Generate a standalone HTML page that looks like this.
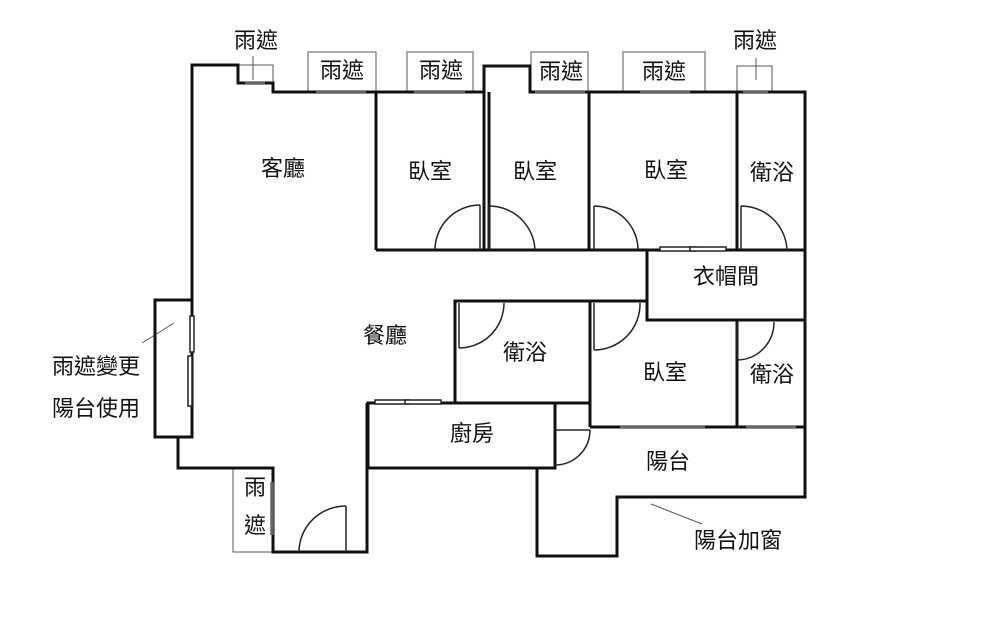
<!DOCTYPE html>
<html><head><meta charset="utf-8"><style>
html,body{margin:0;padding:0;background:#fff;}
svg{display:block;}
text{font-family:"Liberation Sans","Noto Sans CJK TC",sans-serif;font-size:22px;fill:#111;text-anchor:middle;dominant-baseline:middle;}
</style></head><body>
<svg width="1000" height="618" viewBox="0 0 1000 618" xmlns="http://www.w3.org/2000/svg">
<g fill="none" stroke="#555" stroke-width="1">
<rect x="238" y="65" width="35" height="18"/>
<rect x="308" y="52" width="68" height="40"/>
<rect x="407" y="52" width="66" height="40"/>
<rect x="531" y="52" width="57" height="40"/>
<rect x="623" y="52" width="82" height="40"/>
<rect x="737" y="66" width="35" height="26"/>
<rect x="233" y="468" width="40" height="84"/>
<line x1="253" y1="56" x2="253" y2="80"/>
<line x1="756" y1="58" x2="756" y2="80"/>
<line x1="651" y1="504" x2="702" y2="524"/>
<line x1="142" y1="343" x2="174" y2="323"/>
</g>
<g fill="none" stroke="#111" stroke-width="3" stroke-linejoin="miter">
<polyline points="192,300 192,65 238,65 238,83 273,83 273,92 485,92"/>
<polyline points="484,250 484,66 530,66 530,92 805,92 805,497 617,497 617,556 537,556 537,468"/>
<line x1="376" y1="92" x2="376" y2="250"/>
<line x1="489" y1="92" x2="489" y2="250"/>
<line x1="589" y1="92" x2="589" y2="250"/>
<line x1="737" y1="92" x2="737" y2="250"/>
<line x1="376" y1="250" x2="805" y2="250"/>
<polyline points="647,250 647,320 805,320"/>
<line x1="737" y1="320" x2="737" y2="427"/>
<polyline points="455,403 455,301 647,301"/>
<line x1="590" y1="301" x2="590" y2="427"/>
<line x1="590" y1="427" x2="805" y2="427"/>
<rect x="368" y="403" width="187" height="65"/>
<line x1="555" y1="403" x2="590" y2="403"/>
<rect x="155" y="300" width="37" height="137"/>
<polyline points="178,437 178,468 273,468 273,552 367,552 367,403"/>
</g>
<g stroke="#666" stroke-width="3.5">
<line x1="245" y1="83" x2="265" y2="83"/>
<line x1="316" y1="92" x2="366" y2="92"/>
<line x1="414" y1="92" x2="465" y2="92"/>
<line x1="535" y1="92" x2="585" y2="92"/>
<line x1="640" y1="92" x2="690" y2="92"/>
<line x1="743" y1="92" x2="768" y2="92"/>
<line x1="272" y1="482" x2="272" y2="535"/>
<line x1="620" y1="427" x2="705" y2="427"/>
<line x1="746" y1="427" x2="796" y2="427"/>
</g>
<g fill="#fff" stroke="#222" stroke-width="1.5">
<rect x="190" y="316" width="4" height="36"/>
<rect x="188" y="356" width="4" height="50"/>
<rect x="660" y="247" width="36" height="4"/>
<rect x="690" y="247" width="36" height="4"/>
<rect x="375" y="400" width="34" height="4"/>
<rect x="405" y="400" width="36" height="4"/>
</g>
<g fill="none" stroke="#222" stroke-width="1.5">
<line x1="480" y1="250" x2="480" y2="205"/><path d="M480,205 A45,45 0 0 0 435,250"/>
<line x1="489" y1="250" x2="489" y2="206"/><path d="M489,206 A46,46 0 0 1 535,250"/>
<line x1="594" y1="250" x2="594" y2="206"/><path d="M594,206 A44,44 0 0 1 638,250"/>
<line x1="741" y1="250" x2="741" y2="206"/><path d="M741,206 A46,46 0 0 1 787,250"/>
<line x1="459" y1="303" x2="459" y2="348"/><path d="M459,348 A45,45 0 0 0 504,303"/>
<line x1="594" y1="303" x2="594" y2="350"/><path d="M594,350 A46,46 0 0 0 640,303"/>
<line x1="737" y1="322" x2="737" y2="360"/><path d="M737,360 A37,38 0 0 0 774,322"/>
<line x1="555" y1="430" x2="590" y2="430"/><path d="M590,430 A35,35 0 0 1 555,465"/>
<line x1="346" y1="552" x2="346" y2="506"/><path d="M346,506 A47,46 0 0 0 299,552"/>
</g>
<text x="256" y="42">雨遮</text>
<text x="342" y="72">雨遮</text>
<text x="441" y="72">雨遮</text>
<text x="561" y="73">雨遮</text>
<text x="664" y="73">雨遮</text>
<text x="755" y="42">雨遮</text>
<text x="283" y="170">客廳</text>
<text x="430" y="173">臥室</text>
<text x="535" y="173">臥室</text>
<text x="666" y="172">臥室</text>
<text x="772" y="174">衛浴</text>
<text x="726" y="278">衣帽間</text>
<text x="385" y="337">餐廳</text>
<text x="525" y="354">衛浴</text>
<text x="665" y="374">臥室</text>
<text x="772" y="376">衛浴</text>
<text x="472" y="435">廚房</text>
<text x="668" y="463">陽台</text>
<text x="738" y="542">陽台加窗</text>
<text x="96" y="368">雨遮變更</text>
<text x="96" y="410">陽台使用</text>
<text x="255" y="489">雨</text>
<text x="255" y="527">遮</text>
</svg>
</body></html>
